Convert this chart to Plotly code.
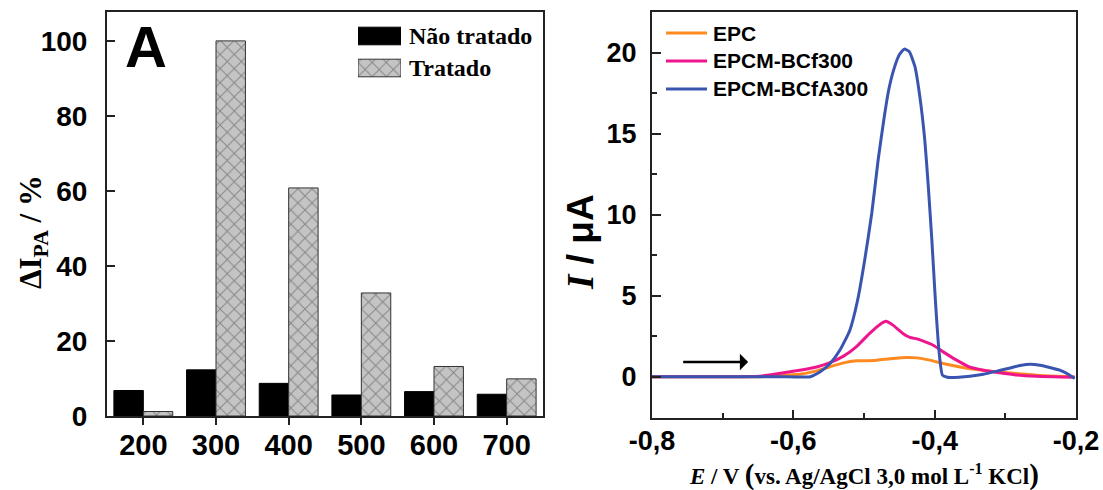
import plotly.graph_objects as go

# ---------------- data: panel A (bars) ----------------
temps = ['200', '300', '400', '500', '600', '700']
nao_tratado = [6.8, 12.3, 8.7, 5.6, 6.5, 5.8]
tratado = [1.2, 100.0, 60.8, 32.8, 13.2, 9.9]
bar_names = ['Não tratado', 'Tratado']

# ---------------- data: voltammograms ----------------
E_epc = [-0.80, -0.75, -0.70, -0.65, -0.614, -0.591, -0.567, -0.549, -0.529, -0.511,
         -0.499, -0.482, -0.463, -0.440, -0.426, -0.407, -0.388, -0.364, -0.341,
         -0.312, -0.284, -0.256, -0.228, -0.202]
I_epc = [0.0, 0.0, 0.0, 0.0, 0.09, 0.15, 0.36, 0.60, 0.85, 0.98,
         0.99, 1.02, 1.10, 1.18, 1.16, 1.02, 0.81, 0.60, 0.44,
         0.30, 0.20, 0.09, 0.03, 0.0]

E_f300 = [-0.80, -0.75, -0.70, -0.647, -0.614, -0.591, -0.567, -0.549, -0.529, -0.511,
          -0.492, -0.477, -0.469, -0.459, -0.445, -0.435, -0.425, -0.415, -0.402,
          -0.388, -0.369, -0.351, -0.331, -0.308, -0.285, -0.256, -0.202]
I_f300 = [0.0, 0.0, 0.0, 0.03, 0.24, 0.40, 0.60, 0.85, 1.27, 1.84,
          2.67, 3.24, 3.42, 3.18, 2.67, 2.42, 2.33, 2.18, 1.94,
          1.53, 1.02, 0.60, 0.40, 0.24, 0.11, 0.03, -0.03]

E_fa300 = [-0.80, -0.70, -0.62, -0.576, -0.562, -0.548, -0.534, -0.520, -0.509, -0.499,
           -0.489, -0.480, -0.472, -0.465, -0.458, -0.450, -0.443, -0.436, -0.428,
           -0.421, -0.414, -0.409, -0.404, -0.399, -0.394, -0.389, -0.382, -0.378,
           -0.350, -0.331, -0.312, -0.293, -0.279, -0.265, -0.251, -0.237, -0.223,
           -0.211, -0.202]
I_fa300 = [0.0, 0.0, 0.0, 0.0, 0.30, 0.81, 1.64, 2.87, 4.73, 7.20,
           10.08, 13.37, 15.84, 17.70, 18.93, 19.86, 20.21, 20.06, 19.14,
           17.28, 14.61, 11.73, 8.44, 4.73, 1.65, 0.10, -0.04, -0.05,
           0.03, 0.15, 0.34, 0.54, 0.69, 0.77, 0.71, 0.57, 0.40,
           0.15, -0.11]

curve_names = ['EPC', 'EPCM-BCf300', 'EPCM-BCfA300']
curve_colors = ['#FF8A20', '#EE168C', '#3A55B0']

x_ticks_vals = [-0.8, -0.6, -0.4, -0.2]
x_ticks_text = ['-0,8', '-0,6', '-0,4', '-0,2']
y_ticks_vals = [0, 5, 10, 15, 20]

# ---------------- figure ----------------
W, H = 1103, 490
def px(x):
    return x / W
def py(y):
    return 1 - y / H

fig = go.Figure()

hatch = dict(shape='x', size=10, solidity=0.18, fgcolor='#444444', bgcolor='#c4c4c4')

fig.add_trace(go.Bar(x=temps, y=nao_tratado, name=bar_names[0],
                     marker=dict(color='#000000', line=dict(color='#000000', width=1)),
                     xaxis='x', yaxis='y', showlegend=False))
fig.add_trace(go.Bar(x=temps, y=tratado, name=bar_names[1],
                     marker=dict(color='#c4c4c4', line=dict(color='#333333', width=1),
                                 pattern=hatch),
                     xaxis='x', yaxis='y', showlegend=False))

# legend swatches for panel A (hidden axes)
fig.add_trace(go.Bar(x=[1, 1], y=bar_names, orientation='h', width=0.55,
                     marker=dict(color=['#000000', '#c4c4c4'],
                                 line=dict(color=['#000000', '#333333'], width=1),
                                 pattern=dict(shape=['', 'x'], size=10, solidity=0.18,
                                              fgcolor='#444444', bgcolor='#c4c4c4')),
                     xaxis='x3', yaxis='y3', showlegend=False, hoverinfo='skip'))

for E, I, nm, col in [(E_epc, I_epc, curve_names[0], curve_colors[0]),
                      (E_f300, I_f300, curve_names[1], curve_colors[1]),
                      (E_fa300, I_fa300, curve_names[2], curve_colors[2])]:
    fig.add_trace(go.Scatter(x=E, y=I, mode='lines', name=nm,
                             line=dict(color=col, width=3, shape='spline', smoothing=0.5),
                             xaxis='x2', yaxis='y2', showlegend=False))

tick_font = dict(family='Liberation Sans, Arial', size=27, color='#000', weight='bold')
axis_common = dict(showline=True, linecolor='#222', linewidth=2, mirror=True,
                   showgrid=False, zeroline=False, tickcolor='#222', tickwidth=1.5,
                   automargin=False)

fig.update_layout(
    width=W, height=H,
    margin=dict(l=0, r=0, t=0, b=0),
    paper_bgcolor='white', plot_bgcolor='white',
    barmode='group', bargap=0.19, bargroupgap=0,
    separators=',.',
    xaxis=dict(domain=[px(107), px(543)], range=[-0.5, 5.5], type='category',
               ticks='outside', ticklen=7, ticklabelstandoff=-5, anchor='y',
               tickfont=dict(tick_font, size=29), **axis_common),
    yaxis=dict(domain=[py(416), py(12)], range=[0, 107.7], tickvals=[0, 20, 40, 60, 80, 100],
               ticks='inside', ticklen=8, ticklabelstandoff=12, anchor='x',
               tickfont=dict(tick_font, size=28), **axis_common),
    xaxis2=dict(domain=[px(652), px(1076)], range=[-0.8, -0.2], tickvals=x_ticks_vals,
                ticktext=x_ticks_text, ticks='inside', ticklen=8, ticklabelstandoff=-2,
                minor=dict(tickmode='linear', tick0=-0.8, dtick=0.1, ticks='inside',
                           ticklen=5, tickcolor='#222', tickwidth=1.5),
                anchor='y2', tickfont=tick_font, **axis_common),
    yaxis2=dict(domain=[py(418), py(12)], range=[-2.55, 22.5], tickvals=y_ticks_vals,
                ticks='inside', ticklen=9, ticklabelstandoff=8,
                minor=dict(tickmode='linear', tick0=0, dtick=2.5, ticks='inside',
                           ticklen=5, tickcolor='#222', tickwidth=1.5),
                anchor='x2', tickfont=tick_font, **axis_common),
    xaxis3=dict(domain=[px(358), px(401)], range=[0, 1], visible=False, fixedrange=True,
                automargin=False),
    yaxis3=dict(domain=[py(84), py(20)], range=[1.5, -0.5], type='category',
                visible=False, fixedrange=True, automargin=False),
)

annotations = []
# panel label
annotations.append(dict(text='<b>A</b>', x=px(146), y=py(46), xref='paper', yref='paper',
                        showarrow=False, xanchor='center', yanchor='middle',
                        font=dict(family='Liberation Sans, Arial', size=58, color='#000')))
# panel A legend labels
for i, nm in enumerate(bar_names):
    annotations.append(dict(text=nm, x=px(407), y=py(36 + 32 * i), xref='paper', yref='paper',
                            showarrow=False, xanchor='left', yanchor='middle',
                            font=dict(family='Liberation Serif, Times New Roman', size=24,
                                      color='#000', weight='bold')))
# panel A y title
annotations.append(dict(text='ΔI<sub>PA</sub> / %', x=px(33), y=py(232), xref='paper',
                        yref='paper', showarrow=False, textangle=-90, xanchor='center',
                        yanchor='middle',
                        font=dict(family='Liberation Serif, Times New Roman', size=31,
                                  color='#000', weight='bold')))
# right y title
annotations.append(dict(text='<span style="font-family:Liberation Serif"><i>I</i></span> / μA',
                        x=px(581), y=py(242), xref='paper', yref='paper', showarrow=False,
                        textangle=-90, xanchor='center', yanchor='middle',
                        font=dict(family='Liberation Sans, Arial', size=37, color='#000',
                                  weight='bold')))
# right x title
annotations.append(dict(text='<i>E</i> / V <span style="font-size:29px">(</span>vs. Ag/AgCl 3,0 mol L<sup>-1</sup> KCl<span style="font-size:29px">)</span>',
                        x=px(864), y=py(474), xref='paper', yref='paper', showarrow=False,
                        xanchor='center', yanchor='middle',
                        font=dict(family='Liberation Serif, Times New Roman', size=23,
                                  color='#000', weight='bold')))
# right legend labels
legend_y = [33, 61, 89]
shapes = []
for nm, col, yy in zip(curve_names, curve_colors, legend_y):
    shapes.append(dict(type='line', xref='paper', yref='paper', x0=px(666), x1=px(707),
                       y0=py(yy), y1=py(yy), line=dict(color=col, width=3)))
    annotations.append(dict(text=nm, x=px(711), y=py(yy), xref='paper', yref='paper',
                            showarrow=False, xanchor='left', yanchor='middle',
                            font=dict(family='Liberation Sans, Arial', size=21, color='#000',
                                      weight='bold')))
# scan direction arrow
annotations.append(dict(text='', x=-0.664, y=0.91, ax=-0.758, ay=0.91, xref='x2', yref='y2',
                        axref='x2', ayref='y2', showarrow=True, arrowhead=1, arrowsize=1.1,
                        arrowwidth=2.5, arrowcolor='#000'))

fig.update_layout(annotations=annotations, shapes=shapes)

fig.write_html('out.html')
